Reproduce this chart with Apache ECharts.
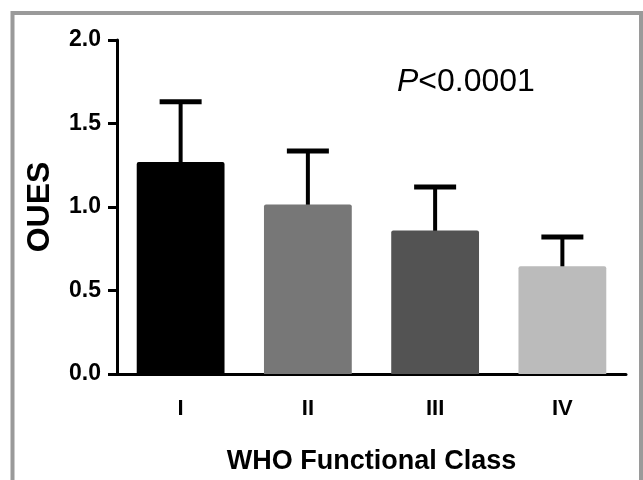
<!DOCTYPE html>
<html>
<head>
<meta charset="utf-8">
<script src="https://cdn.jsdelivr.net/npm/echarts@6/dist/echarts.min.js"></script>
<style>
  html, body { margin: 0; padding: 0; background: #fff; }
  #chart { width: 643px; height: 480px; }
</style>
</head>
<body>
<div id="chart"></div>
<script>
// WHO class groups, mean OUES and top of the error bar (mean + SD)
var classes = ['I', 'II', 'III', 'IV'];
var meanOues = [1.27, 1.015, 0.86, 0.645];
var upperOues = [1.63, 1.335, 1.12, 0.82];
var barColors = ['#000000', '#777777', '#535353', '#bbbbbb'];
var yTicks = [0, 0.5, 1.0, 1.5, 2.0];

var font = 'Arial, "Liberation Sans", sans-serif';

var chart = echarts.init(document.getElementById('chart'));

var errData = classes.map(function (c, i) {
    return [i, meanOues[i], upperOues[i]];
});

option = {
    animation: false,
    backgroundColor: '#fff',
    grid: {
        left: 117,
        right: 17,
        top: 40,
        bottom: 103
    },
    xAxis: {
        type: 'category',
        data: classes,
        name: 'WHO Functional Class',
        nameLocation: 'middle',
        nameGap: 74,
        nameTextStyle: { fontFamily: font, fontSize: 27, fontWeight: 'bold', color: '#000' },
        axisLine: { lineStyle: { color: '#000', width: 3 } },
        axisTick: { alignWithLabel: true, length: 9, lineStyle: { color: '#000', width: 3 } },
        axisLabel: { fontFamily: font, fontSize: 22, fontWeight: 'bold', color: '#000', margin: 24 }
    },
    yAxis: {
        type: 'value',
        min: yTicks[0],
        max: yTicks[yTicks.length - 1],
        interval: 0.5,
        name: 'OUES',
        nameLocation: 'middle',
        nameGap: 61,
        nameTextStyle: { fontFamily: font, fontSize: 32, fontWeight: 'bold', color: '#000' },
        axisLine: { show: true, lineStyle: { color: '#000', width: 3 } },
        axisTick: { show: true, length: 9, lineStyle: { color: '#000', width: 3 } },
        splitLine: { show: false },
        axisLabel: {
            fontFamily: font, fontSize: 23, fontWeight: 'bold', color: '#000', margin: 16,
            formatter: function (v) { return v.toFixed(1); }
        }
    },
    graphic: [
        {
            type: 'rect',
            shape: { x: 12.5, y: 13, width: 628.5, height: 520 },
            style: { fill: 'none', stroke: '#9a9a9a', lineWidth: 4 },
            silent: true
        },
        {
            type: 'text',
            left: 397,
            top: 66,
            style: {
                rich: {
                    p: { fontFamily: font, fontSize: 32, fontStyle: 'italic', fill: '#000' },
                    t: { fontFamily: font, fontSize: 32, fill: '#000' }
                },
                text: '{p|P}{t|<0.0001}'
            }
        }
    ],
    series: [
        {
            type: 'custom',
            z: 1,
            data: errData,
            renderItem: function (params, api) {
                var top = api.coord([api.value(0), api.value(2)]);
                var base = api.coord([api.value(0), api.value(1)]);
                var half = 21;
                return {
                    type: 'group',
                    children: [
                        {
                            type: 'line',
                            shape: { x1: top[0], y1: top[1], x2: base[0], y2: base[1] + 4 },
                            style: { stroke: '#000', lineWidth: 4 }
                        },
                        {
                            type: 'line',
                            shape: { x1: top[0] - half, y1: top[1], x2: top[0] + half, y2: top[1] },
                            style: { stroke: '#000', lineWidth: 5 }
                        }
                    ]
                };
            }
        },
        {
            type: 'bar',
            z: 2,
            barWidth: '69%',
            data: meanOues.map(function (v, i) {
                return { value: v, itemStyle: { color: barColors[i], borderRadius: [2, 2, 0, 0] } };
            })
        }
    ]
};
chart.setOption(option);
</script>
</body>
</html>
